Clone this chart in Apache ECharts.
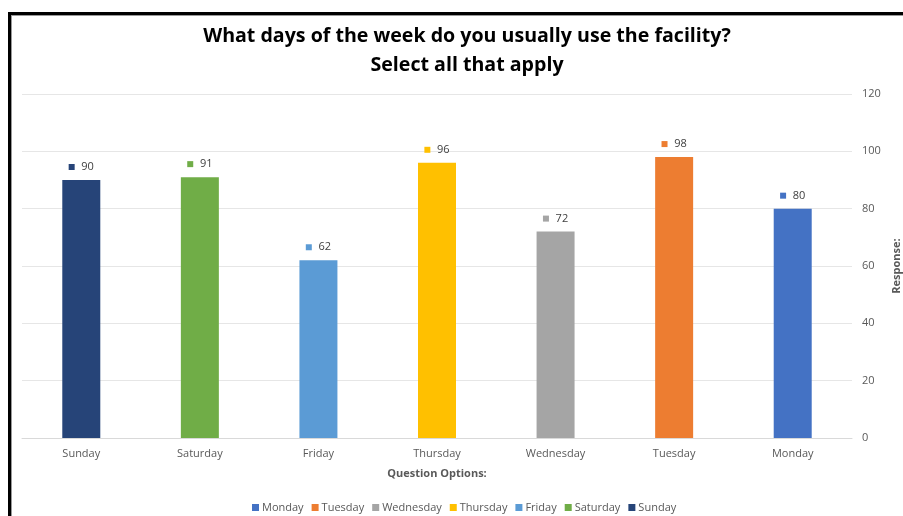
<!DOCTYPE html>
<html><head><meta charset="utf-8">
<script src="https://cdn.jsdelivr.net/npm/echarts@6/dist/echarts.min.js"></script>
<style>html,body{margin:0;padding:0;background:#fff}#c{width:903px;height:516px}</style>
</head><body><div id="c"></div>
<script>
const categories = ['Sunday','Saturday','Friday','Thursday','Wednesday','Tuesday','Monday'];
const values = [90, 91, 62, 96, 72, 98, 80];
const legendOrder = ['Monday','Tuesday','Wednesday','Thursday','Friday','Saturday','Sunday'];
const dayColors = {Monday:'#4472C4',Tuesday:'#ED7D31',Wednesday:'#A5A5A5',Thursday:'#FFC000',Friday:'#5B9BD5',Saturday:'#70AD47',Sunday:'#264478'};
const yTicks = [0, 20, 40, 60, 80, 100, 120];
const titleText = 'What days of the week do you usually use the facility?\nSelect all that apply';

const series = legendOrder.map(name => ({
  name: name,
  type: 'bar',
  stack: 'all',
  barWidth: 38,
  itemStyle: {color: dayColors[name]},
  data: categories.map((c, i) => c === name ? values[i] : '-'),
  label: {
    show: true, position: 'top', distance: 7,
    formatter: '{sq|}  {v|{c}}',
    rich: {
      sq: {backgroundColor: dayColors[name], width: 6, height: 6},
      v: {fontSize: 11, color: '#404040', fontFamily: 'Open Sans'}
    }
  }
}));

const chart = echarts.init(document.getElementById('c'));
chart.setOption({
  animation: false,
  backgroundColor: '#fff',
  title: {
    text: titleText, left: 462, top: 17, textAlign: 'center',
    textStyle: {fontFamily: 'Open Sans', fontWeight: 'bold', fontSize: 19.6, color: '#000', lineHeight: 29}
  },
  legend: {
    data: legendOrder, top: 502, left: 252, itemWidth: 7, itemHeight: 7, itemGap: 8,
    icon: 'rect', padding: 0,
    textStyle: {fontFamily: 'Open Sans', fontSize: 11, color: '#595959', padding: [0,0,0,-2]}
  },
  grid: {left: 22, right: 51, top: 94, bottom: 78, containLabel: false, outerBoundsMode: 'none'},
  xAxis: {
    type: 'category', data: categories,
    name: 'Question Options:', nameLocation: 'middle', nameGap: 30,
    nameTextStyle: {fontFamily: 'Open Sans', fontWeight: 'bold', fontSize: 11, color: '#595959'},
    axisLine: {lineStyle: {color: '#D9D9D9'}}, axisTick: {show: false},
    axisLabel: {fontFamily: 'Open Sans', fontSize: 11, color: '#595959', margin: 10}
  },
  yAxis: {
    type: 'value', position: 'right', min: yTicks[0], max: yTicks[yTicks.length-1], interval: 20,
    name: 'Response:', nameLocation: 'middle', nameGap: 8, nameRotate: 90,
    nameTextStyle: {fontFamily: 'Open Sans', fontWeight: 'bold', fontSize: 11, color: '#595959'},
    axisLine: {show: false}, axisTick: {show: false},
    splitLine: {lineStyle: {color: '#E6E6E6'}},
    axisLabel: {fontFamily: 'Open Sans', fontSize: 11, color: '#595959', margin: 10}
  },
  graphic: [
    {type: 'rect', shape: {x: 8, y: 12, width: 3, height: 504}, style: {fill: '#000'}},
    {type: 'rect', shape: {x: 8, y: 12, width: 895, height: 3}, style: {fill: '#000'}},
    {type: 'rect', shape: {x: 11, y: 15, width: 1, height: 501}, style: {fill: '#999'}},
    {type: 'rect', shape: {x: 11, y: 15, width: 892, height: 1}, style: {fill: '#999'}}
  ],
  series: series
});
</script></body></html>
